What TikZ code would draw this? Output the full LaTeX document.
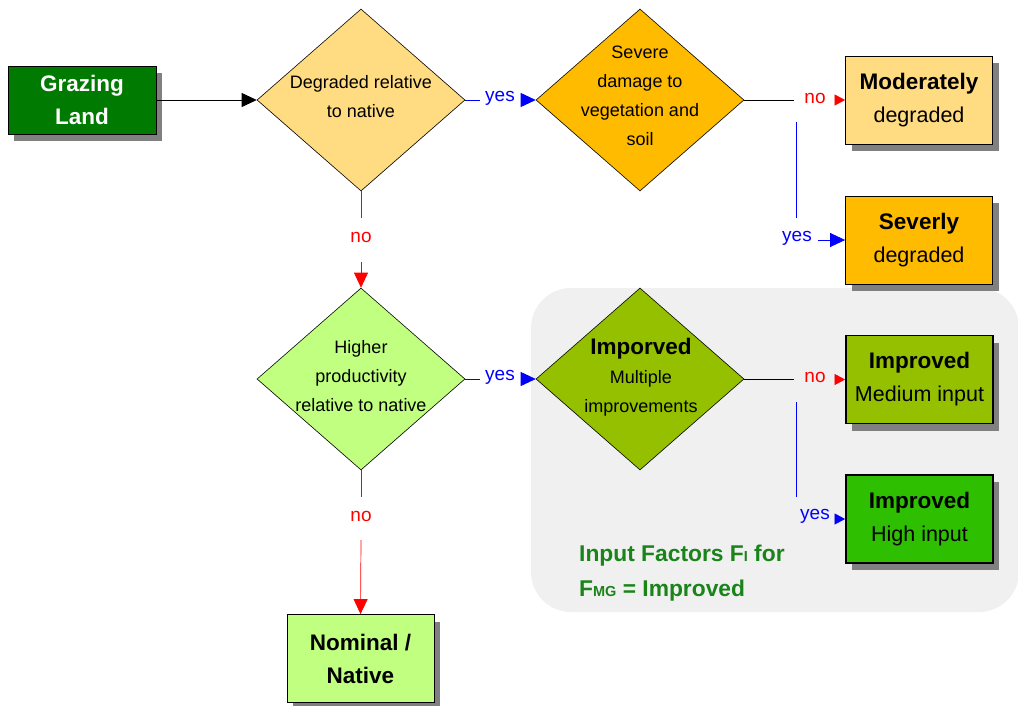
\documentclass[tikz,border=0pt]{standalone}
\usepackage{fontspec}
\setmainfont{Liberation Sans}
\usetikzlibrary{shapes.geometric,arrows.meta,shadows}

\definecolor{sandfill}{HTML}{FFDC82}
\definecolor{amberfill}{HTML}{FFBB00}
\definecolor{palegreen}{HTML}{C0FF80}
\definecolor{olivefill}{HTML}{94C000}
\definecolor{brightgreen}{HTML}{2EC000}
\definecolor{darkgreen}{HTML}{007A00}
\definecolor{shadowgray}{HTML}{808080}
\definecolor{panelgray}{HTML}{F0F0F0}
\definecolor{notegreen}{HTML}{1A841A}
\definecolor{yesblue}{HTML}{0000FF}
\definecolor{nored}{HTML}{FF0000}

\newcommand{\fsz}[2]{\fontsize{#1}{#2}\selectfont}
\newcommand{\boxhead}[1]{{\fsz{22.5}{33}\bfseries #1}}

\begin{document}
\begin{tikzpicture}[x=1pt,y=-1pt,
  box/.style={draw=black, line width=0.8pt, minimum width=147pt, minimum height=88pt,
    inner sep=0pt, align=center, font=\fsz{21.5}{33},
    general shadow={fill=shadowgray, shadow xshift=6pt, shadow yshift=-7pt}},
  thickbox/.style={box, line width=1.8pt},
  decision/.style={diamond, draw=black, line width=0.6pt, minimum width=208pt,
    minimum height=182pt, inner sep=0pt},
  dtext/.style={align=center, font=\fsz{18}{29}, inner sep=0pt},
  lab/.style={font=\fsz{19}{20}, inner sep=0pt},
  yeslab/.style={lab, text=yesblue},
  nolab/.style={lab, text=nored},
  panel/.style={fill=panelgray, rounded corners=40pt, inner sep=0pt},
  blkline/.style={draw=black, line width=0.8pt},
  blueline/.style={draw=yesblue, line width=0.7pt},
  redline/.style={draw=nored, line width=0.7pt},
  bigtip/.style={-{Triangle[length=15pt,width=14pt]}},
  smalltip/.style={-{Triangle[length=10.5pt,width=11pt]}}
]
\useasboundingbox (0,0) rectangle (1018,705);

% shaded panel for the improved-grassland branch
\node[panel, minimum width=488pt, minimum height=324pt] (panel) at (775,450) {};

% start box
\node[box, fill=darkgreen, minimum width=148pt, minimum height=68pt,
  text=white, font=\fsz{22.5}{33}\bfseries] (graze) at (82,100) {Grazing\\Land};

% decisions
\node[decision, fill=sandfill] (d1) at (361,100) {};
\node[dtext] (t1) at (361,97) {Degraded relative\\to native};

\node[decision, fill=amberfill] (d2) at (640,100) {};
\node[dtext] (t2) at (640,96) {Severe\\damage to\\vegetation and\\soil};

\node[decision, fill=palegreen] (d3) at (361,379) {};
\node[dtext] (t3) at (361,376) {Higher\\productivity\\relative to native};

\node[decision, fill=olivefill] (d4) at (640,379) {};
\node[dtext] (t4) at (641,377) {{\fsz{22.5}{29}\bfseries Imporved}\\Multiple\\improvements};

% outcome boxes
\node[box, fill=sandfill] (mod) at (919,100) {\boxhead{Moderately}\\degraded};
\node[box, fill=amberfill] (sev) at (919,240) {\boxhead{Severly}\\degraded};
\node[thickbox, fill=olivefill] (med) at (919.5,379.5) {\boxhead{Improved}\\Medium input};
\node[thickbox, fill=brightgreen] (high) at (919.5,519) {\boxhead{Improved}\\High input};
\node[box, fill=palegreen] (nom) at (360.5,658.5) {\boxhead{Nominal /}\\\boxhead{Native}};

% note inside the panel
\node[anchor=west, align=left, inner sep=0pt, text=notegreen,
  font=\fsz{22.8}{35}\bfseries] (note) at (579,573)
  {Input Factors F{\fsz{14.5}{35}I} for\\F{\fsz{14.5}{35}MG} = Improved};

% connector coordinates (label gaps and bends)
\coordinate (y1a) at (480,100);
\coordinate (y1b) at (521,100);
\coordinate (n2a) at (794,100);
\coordinate (n2b) at (835,100);
\coordinate (y2a) at (796,122);
\coordinate (y2b) at (796,218);
\coordinate (y2c) at (818,240);
\coordinate (n1a) at (361,218);
\coordinate (n1b) at (361,262);
\coordinate (y3a) at (480,379);
\coordinate (y3b) at (521,379);
\coordinate (n4a) at (794,379);
\coordinate (n4b) at (835,379.5);
\coordinate (y4a) at (796,402);
\coordinate (y4b) at (796,497);
\coordinate (y4c) at (835,519);
\coordinate (n3a) at (361,497);
\coordinate (n3b) at (361,540);

% labels
\node[yeslab] (yes1) at (500,98) {yes};
\node[nolab] (no2) at (815,98) {no};
\node[yeslab] (yes2) at (797,238) {yes};
\node[nolab] (no1) at (361,237) {no};
\node[yeslab] (yes3) at (500,377) {yes};
\node[nolab] (no4) at (815,377) {no};
\node[yeslab] (yes4) at (815,516) {yes};
\node[nolab] (no3) at (361,516) {no};

% connectors
\draw[blkline, bigtip] (graze.east) -- (d1.west);

\draw[blueline] (d1.east) -- (y1a);
\draw[blueline, bigtip] (y1b) -- (d2.west);

\draw[blkline] (d2.east) -- (n2a);
\draw[redline, smalltip] (n2b) -- (mod.west);
\draw[blueline] (y2a) -- (y2b);
\draw[blueline, bigtip] (y2c) -- (sev.west);

\draw[redline] (d1.south) -- (n1a);
\draw[redline, bigtip] (n1b) -- (d3.north);

\draw[blueline] (d3.east) -- (y3a);
\draw[blueline, bigtip] (y3b) -- (d4.west);

\draw[blkline] (d4.east) -- (n4a);
\draw[redline, smalltip] (n4b) -- (med.west);
\draw[blueline] (y4a) -- (y4b);
\draw[blueline, smalltip] (y4c) -- (high.west);

\draw[redline] (d3.south) -- (n3a);
\draw[redline, bigtip] (n3b) -- (nom.north);
\end{tikzpicture}
\end{document}
